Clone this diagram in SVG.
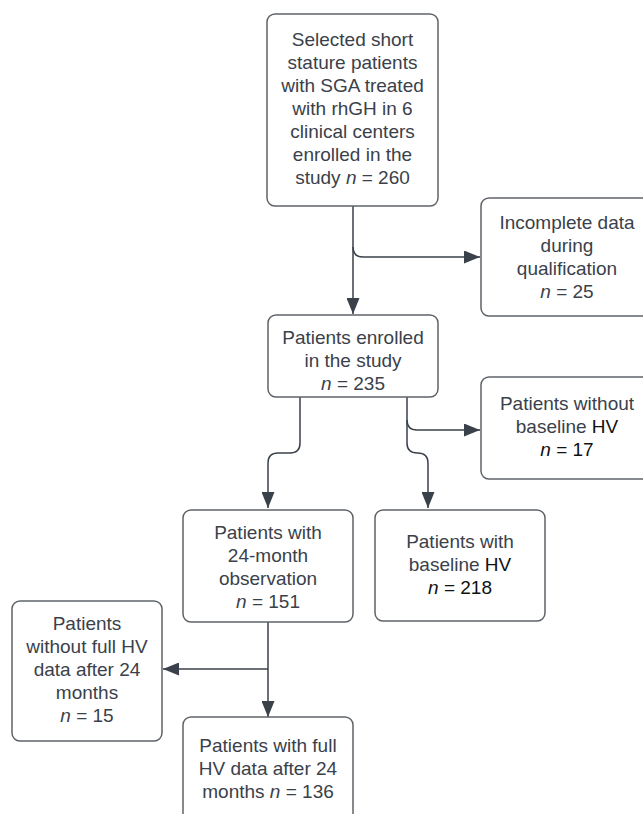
<svg xmlns="http://www.w3.org/2000/svg" width="643" height="814" viewBox="0 0 643 814">
<defs>
<style>
.box{fill:#fff;stroke:#5f6368;stroke-width:1.5}
.t{font-family:"Liberation Sans",Arial,sans-serif;font-size:19px;fill:#3a414a;text-anchor:middle}
.k{fill:#111}
.c{fill:none;stroke:#3a414a;stroke-width:1.5}
</style>
<marker id="ah" viewBox="0 0 16 13" refX="16" refY="6.5" markerWidth="16" markerHeight="13" markerUnits="userSpaceOnUse" orient="auto">
<path d="M0 0L16 6.5L0 13Z" fill="#3a414a"/>
</marker>
</defs>
<rect width="643" height="814" fill="#fff"/>
<g id="connectors">
<path class="c" d="M353 206V314" marker-end="url(#ah)"/>
<path class="c" d="M353 247Q353 257 363 257H480" marker-end="url(#ah)"/>
<path class="c" d="M300 397V443Q300 453 290 453H278Q268 453 268 463V508" marker-end="url(#ah)"/>
<path class="c" d="M407 397V443Q407 453 417.5 453Q428 453 428 463V508" marker-end="url(#ah)"/>
<path class="c" d="M407 420Q407 430 417 430H480" marker-end="url(#ah)"/>
<path class="c" d="M268 622V717" marker-end="url(#ah)"/>
<path class="c" d="M268 669H163" marker-end="url(#ah)"/>
</g>
<g id="n1">
<rect class="box" x="267" y="14" width="171" height="192" rx="8"/>
<text class="t" x="352.5" y="46">Selected short</text>
<text class="t" x="352.5" y="69">stature patients</text>
<text class="t" x="352.5" y="92">with SGA treated</text>
<text class="t" x="352.5" y="115">with rhGH in 6</text>
<text class="t" x="352.5" y="138">clinical centers</text>
<text class="t" x="352.5" y="161">enrolled in the</text>
<text class="t" x="352.5" y="184">study <tspan font-style="italic">n</tspan> = 260</text>
</g>
<g id="n2">
<rect class="box" x="481" y="198" width="190" height="118" rx="8"/>
<text class="t" x="567" y="229">Incomplete data</text>
<text class="t" x="567" y="252">during</text>
<text class="t" x="567" y="275">qualification</text>
<text class="t" x="567" y="298"><tspan font-style="italic">n</tspan> = 25</text>
</g>
<g id="n3">
<rect class="box" x="268" y="315" width="170" height="82" rx="8"/>
<text class="t" x="353" y="344">Patients enrolled</text>
<text class="t" x="353" y="367">in the study</text>
<text class="t" x="353" y="390"><tspan font-style="italic">n</tspan> = 235</text>
</g>
<g id="n4">
<rect class="box" x="481" y="377" width="190" height="102" rx="8"/>
<text class="t" x="567" y="410">Patients without</text>
<text class="t" x="567" y="433">baseline <tspan class="k">HV</tspan></text>
<text class="t k" x="567" y="456"><tspan font-style="italic">n</tspan> = 17</text>
</g>
<g id="n5">
<rect class="box" x="183" y="510" width="170" height="112" rx="8"/>
<text class="t" x="268" y="539">Patients with</text>
<text class="t" x="268" y="562">24-month</text>
<text class="t" x="268" y="585">observation</text>
<text class="t" x="268" y="608"><tspan font-style="italic">n</tspan> = 151</text>
</g>
<g id="n6">
<rect class="box" x="375" y="510" width="170" height="111" rx="8"/>
<text class="t" x="460" y="548">Patients with</text>
<text class="t" x="460" y="571">baseline <tspan class="k">HV</tspan></text>
<text class="t k" x="460" y="594"><tspan font-style="italic">n</tspan> = 218</text>
</g>
<g id="n7">
<rect class="box" x="12" y="601" width="150" height="140" rx="8"/>
<text class="t" x="87" y="630">Patients</text>
<text class="t" x="87" y="653">without full HV</text>
<text class="t" x="87" y="676">data after 24</text>
<text class="t" x="87" y="699">months</text>
<text class="t" x="87" y="722"><tspan font-style="italic">n</tspan> = 15</text>
</g>
<g id="n8">
<rect class="box" x="183" y="717" width="170" height="110" rx="8"/>
<text class="t" x="268" y="752">Patients with full</text>
<text class="t" x="268" y="775">HV data after 24</text>
<text class="t" x="268" y="798">months <tspan font-style="italic">n</tspan> = 136</text>
</g>
</svg>
